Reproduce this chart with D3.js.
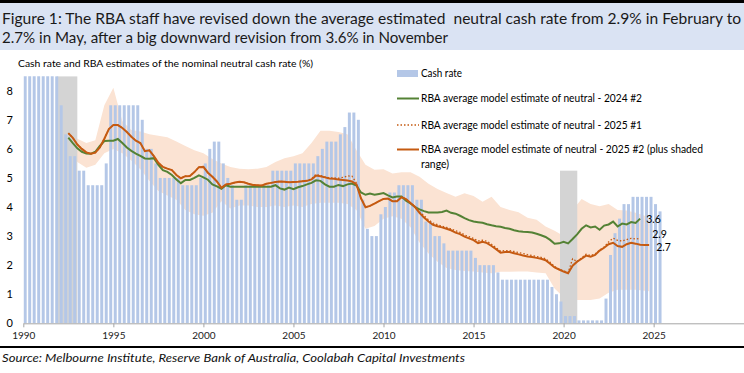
<!DOCTYPE html>
<html>
<head>
<meta charset="utf-8">
<script src="https://cdn.jsdelivr.net/npm/d3@7"></script>
<style>
body { margin: 0; background: #fff; }
svg { display: block; font-family: Lato, "Liberation Sans", sans-serif; }
</style>
</head>
<body>
<script>
// ---------------- data ----------------
// cash rate, end-of-quarter values, quarterly from 1990 Q1
var cashStart = 1990;
var cashRate = [
  16.5, 15, 14, 13,   12, 10.5, 9.5, 8.5,   7.5, 6.5, 5.75, 5.75,   5.25, 5.25, 4.75, 4.75,
  4.75, 4.75, 5.5, 7.5,   7.5, 7.5, 7.5, 7.5,   7.5, 7.5, 7.0, 6.0,   6.0, 5.5, 5.0, 5.0,
  5.0, 5.0, 5.0, 4.75,   4.75, 4.75, 4.75, 5.0,   5.5, 6.0, 6.25, 6.25,   5.5, 5.0, 4.75, 4.25,
  4.25, 4.75, 4.75, 4.75,   4.75, 4.75, 4.75, 5.25,   5.25, 5.25, 5.25, 5.25,   5.5, 5.5, 5.5, 5.5,
  5.5, 5.75, 6.0, 6.25,   6.25, 6.25, 6.5, 6.75,   7.25, 7.25, 7.0, 4.25,   3.25, 3.0, 3.0, 3.75,
  4.0, 4.5, 4.5, 4.75,   4.75, 4.75, 4.75, 4.25,   4.25, 3.5, 3.5, 3.0,   3.0, 2.75, 2.5, 2.5,
  2.5, 2.5, 2.5, 2.5,   2.25, 2.0, 2.0, 2.0,   2.0, 1.75, 1.5, 1.5,   1.5, 1.5, 1.5, 1.5,
  1.5, 1.5, 1.5, 1.5,   1.5, 1.25, 1.0, 0.75,   0.25, 0.25, 0.25, 0.1,   0.1, 0.1, 0.1, 0.1,
  0.1, 0.85, 2.35, 3.1,   3.6, 4.1, 4.1, 4.35,   4.35, 4.35, 4.35, 4.35,   4.1, 3.85
];

// grey shaded periods: [from, to, height]
var shadedPeriods = [
  [1991.85, 1993.0, 8.5],
  [2019.8, 2020.76, 5.25]
];

// RBA estimates, quarterly from 1992 Q3
var estStart = 1992.5;
var est2024_2 = [
  6.39, 6.2, 6.02, 5.9, 5.84, 5.83, 5.9, 6.1, 6.27, 6.28,
  6.28, 6.34, 6.2, 6.05, 5.93, 5.84, 5.76, 5.67, 5.66, 5.68,
  5.45, 5.27, 5.21, 5.1, 4.95, 4.82, 4.93, 4.93, 5.0, 5.09,
  5.02, 4.94, 4.78, 4.71, 4.63, 4.75, 4.7, 4.7, 4.7, 4.7,
  4.7, 4.7, 4.7, 4.7, 4.7, 4.7, 4.75, 4.64, 4.6, 4.67,
  4.61, 4.68, 4.72, 4.78, 4.83, 4.92, 4.9, 4.78, 4.7, 4.7,
  4.76, 4.72, 4.78, 4.81, 4.74, 4.5, 4.42, 4.46, 4.42, 4.45,
  4.48, 4.4, 4.33, 4.36, 4.36, 4.22, 4.12, 4.0, 3.92, 3.86,
  3.81, 3.81, 3.81, 3.83, 3.88, 3.8, 3.77, 3.7, 3.62, 3.55,
  3.5, 3.48, 3.46, 3.41, 3.37, 3.34, 3.32, 3.28, 3.25, 3.2,
  3.17, 3.15, 3.14, 3.12, 3.08, 3.03, 2.97, 2.87, 2.74, 2.75,
  2.8, 2.75, 2.9, 3.06, 3.25, 3.37, 3.3, 3.33, 3.22, 3.36,
  3.4, 3.5, 3.33, 3.43, 3.4, 3.48, 3.45, 3.6
];
var est2025_1 = [
  6.54, 6.38, 6.15, 6.0, 5.88, 5.83, 5.87, 6.05, 6.35, 6.68,
  6.82, 6.82, 6.72, 6.58, 6.42, 6.28, 6.2, 5.92, 5.95, 5.75,
  5.52, 5.38, 5.32, 5.27, 5.1, 4.99, 5.06, 5.07, 5.2, 5.37,
  5.38, 5.18, 5.04, 4.88, 4.66, 4.78, 4.8, 4.84, 4.87, 4.85,
  4.8, 4.76, 4.75, 4.74, 4.8, 4.83, 4.86, 4.88, 4.87, 4.85,
  4.86, 4.87, 4.89, 4.9, 4.97, 5.12, 5.08, 5.04, 5.0, 5.0,
  4.99, 5.02, 5.07, 5.06, 4.82, 4.3, 3.99, 4.04, 4.12, 4.2,
  4.28, 4.29, 4.2, 4.2, 4.34, 4.27, 4.14, 4.02, 3.84, 3.7,
  3.56, 3.45, 3.39, 3.34, 3.3, 3.25, 3.18, 3.13, 3.04, 2.98,
  2.92, 2.83, 2.86, 2.82, 2.72, 2.6, 2.48, 2.5, 2.5, 2.47,
  2.43, 2.4, 2.36, 2.33, 2.3, 2.27, 2.22, 2.1, 1.95, 1.86,
  1.8, 1.74, 2.22, 2.12, 2.25, 2.38, 2.33, 2.38, 2.52, 2.62,
  2.8, 2.93, 2.85, 2.83, 2.88, 2.92, 2.9, 2.92
];
var est2025_2 = [
  6.54, 6.38, 6.15, 6.0, 5.88, 5.83, 5.87, 6.05, 6.35, 6.68,
  6.82, 6.82, 6.72, 6.58, 6.42, 6.28, 6.2, 5.92, 5.95, 5.75,
  5.52, 5.38, 5.32, 5.27, 5.1, 4.99, 5.06, 5.07, 5.2, 5.37,
  5.38, 5.18, 5.04, 4.88, 4.66, 4.78, 4.8, 4.84, 4.87, 4.85,
  4.8, 4.76, 4.75, 4.74, 4.8, 4.83, 4.86, 4.88, 4.87, 4.85,
  4.86, 4.87, 4.89, 4.9, 4.95, 5.08, 5.06, 5.02, 4.98, 4.97,
  4.95, 4.93, 4.91, 4.88, 4.78, 4.3, 3.99, 4.04, 4.12, 4.2,
  4.28, 4.29, 4.2, 4.2, 4.34, 4.27, 4.14, 4.0, 3.8, 3.64,
  3.5, 3.39, 3.34, 3.3, 3.25, 3.2, 3.12, 3.07, 2.98, 2.92,
  2.86, 2.76, 2.8, 2.76, 2.66, 2.55, 2.43, 2.45, 2.45, 2.41,
  2.37, 2.33, 2.3, 2.28, 2.25, 2.22, 2.17, 2.05, 1.92, 1.85,
  1.78, 1.72, 1.98, 2.12, 2.22, 2.33, 2.29, 2.35, 2.5, 2.6,
  2.72, 2.77, 2.66, 2.63, 2.72, 2.77, 2.74, 2.7, 2.69, 2.69
];

// shaded range of 2025 #2 estimates, half-yearly from 1992 H2 (last point 2024.75)
var bandYears = d3.range(0, 65).map(function(i){ return 1992.5 + i*0.5; }).concat([2024.75]);
var bandUpper = [
  6.7, 6.35, 6.2, 6.3, 7.5, 8.1, 6.95, 6.65, 6.6, 6.5,
  6.45, 6.4, 6.25, 6.1, 5.95, 5.85, 5.65, 5.5, 5.38, 5.32,
  5.3, 5.32, 5.38, 5.55, 5.68, 5.75, 5.85, 6.2, 6.62, 6.62,
  6.58, 6.5, 5.95, 5.45, 5.28, 5.3, 5.15, 5.2, 5.2, 5.04,
  4.8, 4.62, 4.48, 4.35, 4.47, 4.38, 4.18, 4.35, 4.0, 3.9,
  3.82, 3.63, 3.56, 3.33, 3.18, 3.0, 3.9, 4.28, 4.1, 4.03,
  4.1, 3.9, 3.88, 3.8, 3.7, 3.6
];
var bandLower = [
  6.3, 5.55, 5.35, 5.45, 5.85, 6.0, 5.85, 5.6, 5.3, 4.9,
  4.55, 4.4, 4.25, 3.9, 3.75, 3.7, 3.8, 4.2, 3.95, 4.05,
  4.05, 4.0, 4.0, 4.05, 4.0, 4.05, 4.0, 4.1, 4.15, 4.15,
  4.15, 4.1, 3.9, 3.25, 3.35, 3.6, 3.68, 3.6, 3.3, 2.78,
  2.4, 2.12, 1.9, 1.83, 1.8, 1.78, 1.75, 1.72, 1.77, 1.77,
  1.78, 1.78, 1.75, 1.72, 1.2, 0.9, 0.8, 0.8, 0.8, 0.85,
  1.05, 1.15, 1.15, 1.15, 1.12, 1.1
];

var xTicks = [1990, 1995, 2000, 2005, 2010, 2015, 2020, 2025];
var yTicks = [0, 1, 2, 3, 4, 5, 6, 7, 8];

var legendLabels = [
  "Cash rate",
  "RBA average model estimate of neutral - 2024 #2",
  "RBA average model estimate of neutral - 2025 #1",
  "RBA average model estimate of neutral - 2025 #2 (plus shaded",
  "range)"
];

// ---------------- layout ----------------
var width = 744, height = 373;
var barColor = "#b4c7e7";
var greyColor = "#d4d4d4";
var bandColor = "#fbe3d3";
var green = "#548235";
var orange = "#c55a11";

var svg = d3.select("body").append("svg")
    .attr("width", width)
    .attr("height", height);

var x = d3.scaleLinear().domain([1990, 2030]).range([23.3, 743.7]);
var y = d3.scaleLinear().domain([0, 8.5]).range([323.3, 76.2]);

//*********** title block *******************
svg.append("rect").attr("x", 0).attr("y", 0).attr("width", width).attr("height", 3).attr("fill", "#000");
svg.append("rect").attr("x", 0).attr("y", 3).attr("width", width).attr("height", 47).attr("fill", "#dae3f3");
svg.append("text")
    .attr("x", 2).attr("y", 24)
    .style("font-size", "15px").style("fill", "#1a1a1a").style("white-space", "pre")
    .attr("textLength", 739).attr("lengthAdjust", "spacingAndGlyphs")
    .text("Figure 1: The RBA staff have revised down the average estimated  neutral cash rate from 2.9% in February to");
svg.append("text")
    .attr("x", 2).attr("y", 43)
    .style("font-size", "15px").style("fill", "#1a1a1a")
    .attr("textLength", 446).attr("lengthAdjust", "spacingAndGlyphs")
    .text("2.7% in May, after a big downward revision from 3.6% in November");

svg.append("text")
    .attr("x", 18).attr("y", 67)
    .style("font-size", "10px").style("fill", "#000")
    .attr("textLength", 295).attr("lengthAdjust", "spacingAndGlyphs")
    .text("Cash rate and RBA estimates of the nominal neutral cash rate (%)");

//*********** plot *******************
var defs = svg.append("defs");
defs.append("clipPath").attr("id", "plotClip")
  .append("rect")
    .attr("x", x(1990)).attr("y", y(8.5))
    .attr("width", x(2030) - x(1990)).attr("height", y(0) - y(8.5));

var plot = svg.append("g").attr("clip-path", "url(#plotClip)");

// shaded range
var area = d3.area()
    .x(function(d){ return x(d.t); })
    .y0(function(d){ return y(d.lo); })
    .y1(function(d){ return y(d.hi); });
var bandData = bandYears.map(function(t, i){ return {t: t, lo: bandLower[i], hi: bandUpper[i]}; });
plot.append("path")
    .datum(bandData)
    .attr("d", area)
    .attr("fill", bandColor);

// grey periods
plot.selectAll(".grey")
    .data(shadedPeriods)
  .enter().append("rect")
    .attr("class", "grey")
    .attr("x", function(d){ return x(d[0]); })
    .attr("width", function(d){ return x(d[1]) - x(d[0]); })
    .attr("y", function(d){ return y(d[2]); })
    .attr("height", function(d){ return y(0) - y(d[2]); })
    .attr("fill", greyColor);

// cash rate bars
var step = x(0.25) - x(0);
plot.selectAll(".bar")
    .data(cashRate)
  .enter().append("rect")
    .attr("class", "bar")
    .attr("x", function(d, i){ return x(cashStart + i*0.25) + 0.4; })
    .attr("width", step*0.66)
    .attr("y", function(d){ return y(d); })
    .attr("height", function(d){ return y(0) - y(d); })
    .attr("fill", barColor);

// lines
function lineFor(start){
  return d3.line()
    .x(function(d, i){ return x(start + i*0.25); })
    .y(function(d){ return y(d); });
}
plot.append("path").datum(est2024_2)
    .attr("d", lineFor(estStart))
    .attr("fill", "none").attr("stroke", green).attr("stroke-width", 2);
plot.append("path").datum(est2025_1)
    .attr("d", lineFor(estStart))
    .attr("fill", "none").attr("stroke", orange).attr("stroke-width", 1.3)
    .attr("stroke-dasharray", "1.5,2");
plot.append("path").datum(est2025_2)
    .attr("d", lineFor(estStart))
    .attr("fill", "none").attr("stroke", orange).attr("stroke-width", 2);

// end labels
var endLabels = [
  {v: est2024_2, dx: 6, dy: 4},
  {v: est2025_1, dx: 12, dy: -0.5},
  {v: est2025_2, dx: 7, dy: 5.5}
];
endLabels.forEach(function(e){
  var n = e.v.length - 1;
  var last = e.v[n];
  svg.append("text")
    .attr("x", x(estStart + n*0.25) + e.dx)
    .attr("y", y(last) + e.dy)
    .style("font-size", "10.5px").style("fill", "#000")
    .text(d3.format(".1f")(last));
});

//*********** axes *******************
var xAxis = svg.append("g")
    .attr("transform", "translate(0," + y(0) + ")")
    .call(d3.axisBottom(x).tickValues(xTicks).tickSize(4).tickSizeOuter(0).tickFormat(d3.format("d")));
xAxis.select(".domain").attr("stroke", "#a6a6a6");
xAxis.selectAll(".tick line").attr("stroke", "#a6a6a6");
xAxis.selectAll("text")
    .style("font-size", "10px").style("fill", "#222")
    .style("font-family", "Lato, 'Liberation Sans', sans-serif")
    .attr("y", 9);

var yAxis = svg.append("g")
    .attr("transform", "translate(16,0)")
    .call(d3.axisLeft(y).tickValues(yTicks).tickSize(0).tickPadding(3));
yAxis.select(".domain").remove();
yAxis.selectAll("text")
    .style("font-size", "11px").style("fill", "#000")
    .style("font-family", "Lato, 'Liberation Sans', sans-serif");

//*********** legend *******************
var lg = svg.append("g");
var lx = 397, ltx = 421;
lg.append("rect").attr("x", lx).attr("y", 70).attr("width", 21).attr("height", 7).attr("fill", barColor);
lg.append("line").attr("x1", lx).attr("x2", lx + 22).attr("y1", 98.5).attr("y2", 98.5)
    .attr("stroke", green).attr("stroke-width", 2);
lg.append("line").attr("x1", lx).attr("x2", lx + 22).attr("y1", 125).attr("y2", 125)
    .attr("stroke", orange).attr("stroke-width", 1.3).attr("stroke-dasharray", "1.5,2");
lg.append("line").attr("x1", lx).attr("x2", lx + 22).attr("y1", 149.5).attr("y2", 149.5)
    .attr("stroke", orange).attr("stroke-width", 2);

var legendPos = [
  {y: 77, w: 41},
  {y: 102, w: 221},
  {y: 129, w: 221},
  {y: 153, w: 282},
  {y: 168, w: 28}
];
legendLabels.forEach(function(t, i){
  lg.append("text")
    .attr("x", ltx).attr("y", legendPos[i].y)
    .style("font-size", "10.5px").style("fill", "#000")
    .attr("textLength", legendPos[i].w).attr("lengthAdjust", "spacingAndGlyphs")
    .text(t);
});

//*********** source *******************
svg.append("rect").attr("x", 0).attr("y", 346).attr("width", width).attr("height", 2).attr("fill", "#000");
svg.append("text")
    .attr("x", 2).attr("y", 362)
    .style("font-size", "11px").style("font-style", "italic").style("fill", "#111")
    .attr("textLength", 463).attr("lengthAdjust", "spacingAndGlyphs")
    .text("Source: Melbourne Institute, Reserve Bank of Australia, Coolabah Capital Investments");
</script>
</body>
</html>
